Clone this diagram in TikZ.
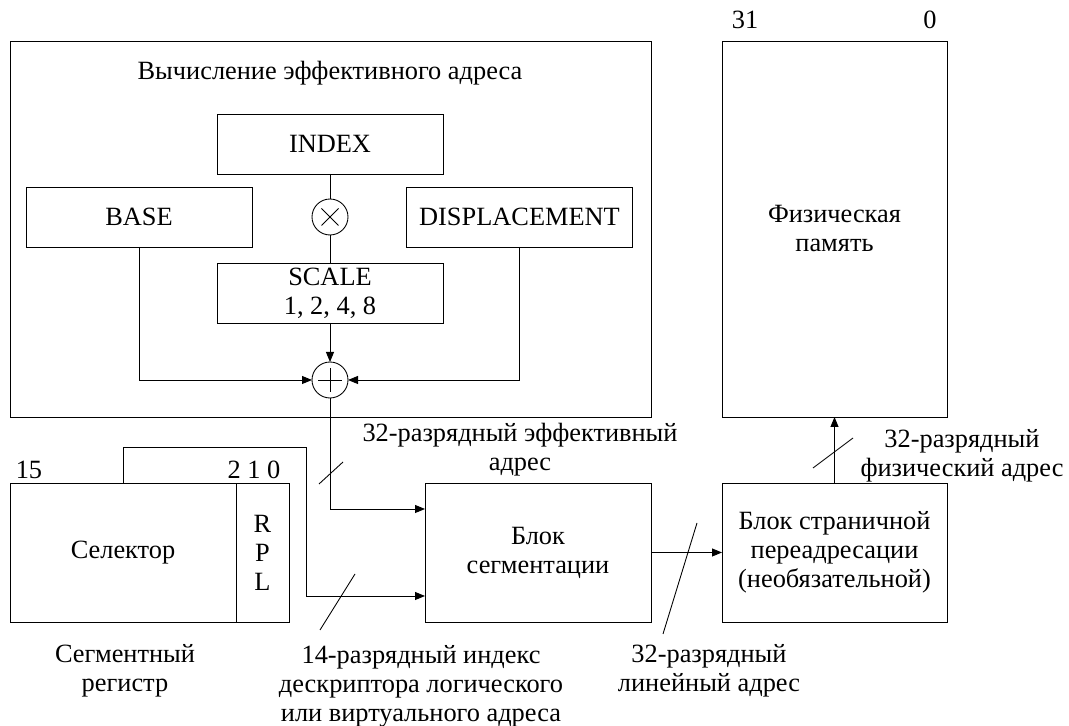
\documentclass[tikz,border=0pt]{standalone}
\usepackage{fontspec}
\setmainfont{Liberation Serif}
\usetikzlibrary{arrows.meta}

\tikzset{
    box/.style={draw, inner sep=0pt, outer sep=0pt, align=center,
        minimum width=4.52cm, minimum height=1.2cm},
    bigbox/.style={box, minimum height=2.78cm},
    opcircle/.style={draw, circle, inner sep=0pt, outer sep=0pt, minimum size=0.72cm},
    arr/.style={-{Triangle[length=2mm,width=1.6mm]}},
    lbl/.style={align=center, inner sep=0pt}
}

\begin{document}
\begin{tikzpicture}[line width=0.5pt, font=\fontsize{15}{16.5}\selectfont]
            \useasboundingbox (0,0) rectangle (21.38,14.52);
            % effective address unit
            \node[box, minimum width=12.82cm, minimum height=7.52cm] (eau) at (6.61,9.94) {};
            \node[lbl] (eautitle) at (6.6,13.06) {Вычисление эффективного адреса};
            \node[box] (index) at (6.6,11.64) {INDEX};
            \node[box] (base) at (2.78,10.18) {BASE};
            \node[box] (disp) at (10.39,10.18) {DISPLACEMENT};
            \node[opcircle] (mul) at (6.6,10.18) {};
            \draw ([shift={(-0.17,0.17)}]mul.center) -- ([shift={(0.17,-0.17)}]mul.center);
            \draw ([shift={(-0.17,-0.17)}]mul.center) -- ([shift={(0.17,0.17)}]mul.center);
            \node[box] (scale) at (6.6,8.66) {SCALE\\1, 2, 4, 8};
            \node[opcircle] (add) at (6.6,6.92) {};
            \draw ([xshift=-0.24cm]add.center) -- ([xshift=0.24cm]add.center);
            \draw ([yshift=-0.24cm]add.center) -- ([yshift=0.24cm]add.center);
            \draw (index) -- (mul);
            \draw (mul) -- (scale);
            \draw[arr] (scale) -- (add);
            \draw[arr] (base.south) |- (add.west);
            \draw[arr] (disp.south) |- (add.east);

            % physical memory
            \node[box, minimum width=4.5cm, minimum height=7.52cm] (mem) at (16.69,9.94) {Физическая\\память};
            \node[lbl] (bit31) at (14.9,14.12) {31};
            \node[lbl] (bit0) at (18.6,14.12) {0};

            % segment register
            \node[bigbox] (sel) at (2.46,3.47) {Селектор};
            \node[bigbox, minimum width=1.06cm] (rpl) at (5.25,3.47) {R\\P\\L};
            \node[lbl] (bit15) at (0.58,5.12) {15};
            \node[lbl] (bit210) at (5.08,5.12) {2 1 0};
            \node[lbl] (segreg) at (2.5,1.1) {Сегментный\\регистр};

            % segmentation and paging
            \node[bigbox] (seg) at (10.76,3.47) {Блок\\сегментации};
            \node[bigbox, minimum width=4.5cm] (page) at (16.69,3.47) {Блок страничной\\переадресации\\(необязательной)};

            \coordinate (selbend) at (6.13,5.58);
            \draw[arr] (add.south) |- ([yshift=0.87cm]seg.west);
            \draw[arr] (sel.north) |- (selbend) |- ([yshift=-0.87cm]seg.west);
            \draw[arr] (seg) -- (page);
            \draw[arr] (page) -- (mem);

            % bus width marks
            \draw (6.38,4.84) -- (6.86,5.28);
            \draw (6.4,1.92) -- (7.1,3.04);
            \draw (13.26,1.84) -- (13.94,4.06);
            \draw (16.26,5.16) -- (17.06,5.76);

            \node[lbl] (efflbl) at (10.4,5.52) {32-разрядный эффективный\\адрес};
            \node[lbl] (idxlbl) at (8.42,0.8) {14-разрядный индекс\\дескриптора логического\\или виртуального адреса};
            \node[lbl] (linlbl) at (14.18,1.1) {32-разрядный\\линейный адрес};
            \node[lbl] (physlbl) at (19.24,5.4) {32-разрядный\\физический адрес};
        \end{tikzpicture}
\end{document}
